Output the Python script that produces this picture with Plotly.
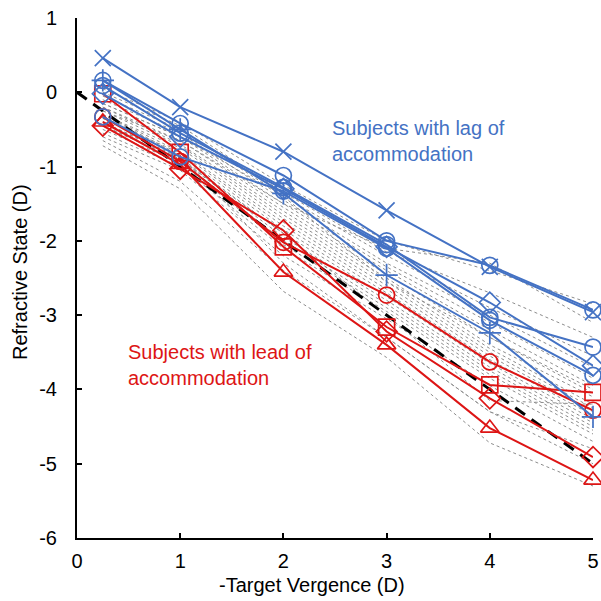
import plotly.graph_objects as go

x_vals = [0.25, 1, 2, 3, 4, 5]

# Other subjects (grey dashed, no markers)
grey_subjects = [
    [0.05, -0.40, -1.25, -2.00, -2.40, -2.85],
    [0.00, -0.45, -1.35, -2.15, -2.70, -3.30],
    [-0.05, -0.50, -1.40, -2.20, -2.90, -3.55],
    [-0.10, -0.55, -1.45, -2.30, -3.00, -3.70],
    [-0.15, -0.60, -1.50, -2.35, -3.10, -3.85],
    [-0.20, -0.65, -1.55, -2.40, -3.20, -3.95],
    [-0.20, -0.70, -1.60, -2.45, -3.30, -4.05],
    [-0.25, -0.72, -1.65, -2.50, -3.40, -4.10],
    [-0.30, -0.75, -1.70, -2.55, -3.45, -4.20],
    [-0.30, -0.80, -1.75, -2.60, -3.50, -4.25],
    [-0.35, -0.82, -1.80, -2.65, -3.55, -4.30],
    [-0.35, -0.85, -1.85, -2.70, -3.60, -4.35],
    [-0.40, -0.88, -1.90, -2.75, -3.65, -4.40],
    [-0.40, -0.90, -1.95, -2.80, -3.70, -4.45],
    [-0.45, -0.92, -2.00, -2.85, -3.75, -4.50],
    [-0.50, -0.95, -2.05, -2.90, -3.80, -4.55],
    [-0.55, -1.00, -2.10, -2.95, -3.85, -4.60],
    [-0.60, -1.05, -2.20, -3.05, -3.95, -4.70],
    [-0.65, -1.20, -2.40, -3.30, -4.30, -5.00],
    [-0.72, -1.30, -2.68, -3.57, -4.72, -5.30],
    [-0.25, -0.65, -1.50, -2.10, -2.30, -3.10],
    [-0.45, -0.90, -1.90, -3.00, -4.15, -4.20],
    [-0.15, -0.60, -1.40, -2.55, -3.30, -4.00],
    [-0.30, -0.85, -2.30, -3.30, -4.30, -4.80],
]

# Demand line (ideal response)
demand_x = [0, 5]
demand_y = [0, -5]

# Subjects with lag of accommodation (blue)
lag_symbols = ["x-thin-open", "circle-open", "cross-thin-open", "circle-open", "diamond-open", "circle-open"]
lag_subjects = [
    [0.46, -0.20, -0.80, -1.59, -2.35, -2.96],
    [0.16, -0.42, -1.12, -2.00, -2.33, -2.93],
    [0.16, -0.50, -1.36, -2.46, -3.24, -4.37],
    [0.09, -0.55, -1.28, -2.05, -3.03, -3.43],
    [-0.02, -0.60, -1.30, -2.08, -2.83, -3.68],
    [-0.33, -0.87, -1.33, -2.10, -3.07, -3.81],
]

# Subjects with lead of accommodation (red)
lead_symbols = ["square-open", "circle-open", "diamond-open", "triangle-up-open"]
lead_subjects = [
    [-0.02, -0.81, -2.08, -3.16, -3.94, -4.04],
    [-0.33, -0.93, -2.02, -2.73, -3.63, -4.28],
    [-0.45, -1.03, -1.86, -3.22, -4.12, -4.91],
    [-0.40, -0.97, -2.42, -3.40, -4.52, -5.22],
]

x_ticks = [0, 1, 2, 3, 4, 5]
x_tick_text = ["0", "1", "2", "3", "4", "5"]
y_ticks = [-6, -5, -4, -3, -2, -1, 0, 1]
y_tick_text = ["-6", "-5", "-4", "-3", "-2", "-1", "0", "1"]

BLUE = "#4472C4"
RED = "#DD1515"
FONT = "Liberation Sans, Arial, sans-serif"

fig = go.Figure()

for ys in grey_subjects:
    fig.add_trace(go.Scatter(
        x=x_vals, y=ys, mode="lines",
        line=dict(color="#8C8C8C", width=1, dash="3px,3px"),
        hoverinfo="skip", showlegend=False,
    ))

fig.add_trace(go.Scatter(
    x=demand_x, y=demand_y, mode="lines",
    line=dict(color="black", width=3, dash="12px,8px"),
    showlegend=False,
))

for ys, sym in zip(lead_subjects, lead_symbols):
    fig.add_trace(go.Scatter(
        x=x_vals, y=ys, mode="lines+markers",
        line=dict(color=RED, width=2),
        marker=dict(symbol=sym, size=16, color=RED, line=dict(color=RED, width=1.7)),
        cliponaxis=False, showlegend=False,
    ))

for ys, sym in zip(lag_subjects, lag_symbols):
    fig.add_trace(go.Scatter(
        x=x_vals, y=ys, mode="lines+markers",
        line=dict(color=BLUE, width=2),
        marker=dict(symbol=sym, size=16, color=BLUE, line=dict(color=BLUE, width=1.7)),
        cliponaxis=False, showlegend=False,
    ))

fig.add_annotation(
    x=2.45, y=-0.31, xref="x", yref="y", xanchor="left", yanchor="top",
    text="Subjects with lag of<br>accommodation", showarrow=False, align="left",
    font=dict(color=BLUE, size=20, family=FONT),
)
fig.add_annotation(
    x=0.47, y=-3.32, xref="x", yref="y", xanchor="left", yanchor="top",
    text="Subjects with lead of<br>accommodation", showarrow=False, align="left",
    font=dict(color=RED, size=20, family=FONT),
)
fig.add_annotation(
    x=-0.1105, y=0.5115, xref="paper", yref="paper", xanchor="center", yanchor="middle",
    text="Refractive State (D)", textangle=-90, showarrow=False,
    font=dict(color="black", size=20, family=FONT),
)
fig.add_annotation(
    x=0.455, y=-0.09, xref="paper", yref="paper", xanchor="center", yanchor="middle",
    text="-Target Vergence (D)", showarrow=False,
    font=dict(color="black", size=20, family=FONT),
)

fig.update_layout(
    width=601, height=601,
    margin=dict(l=77, r=8, t=18, b=63, autoexpand=False),
    paper_bgcolor="white", plot_bgcolor="white",
    font=dict(family=FONT, size=20, color="black"),
    showlegend=False,
)
fig.update_xaxes(
    range=[0, 5], tickvals=x_ticks, ticktext=x_tick_text, ticks="inside", ticklen=5, tickwidth=1.5,
    tickcolor="black", showline=True, linecolor="black", linewidth=2,
    showgrid=False, zeroline=False, ticklabelstandoff=4, automargin=False,
    tickfont=dict(size=20, family=FONT),
)
fig.update_yaxes(
    range=[-6, 1], tickvals=y_ticks, ticktext=y_tick_text, ticks="inside", ticklen=5, tickwidth=1.5,
    tickcolor="black", showline=True, linecolor="black", linewidth=2,
    showgrid=False, zeroline=False, ticklabelstandoff=14, automargin=False,
    tickfont=dict(size=20, family=FONT),
)

fig.write_html("out.html")
